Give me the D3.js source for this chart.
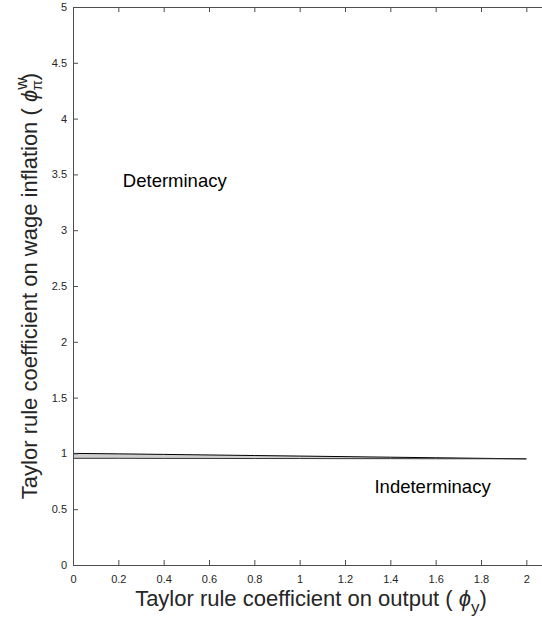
<!DOCTYPE html>
<html><head><meta charset="utf-8">
<script src="https://cdn.jsdelivr.net/npm/d3@7"></script>
<style>body{margin:0;background:#fff}svg{display:block}text{font-family:"Liberation Sans",Arial,Helvetica,sans-serif}</style>
</head><body><svg id="c" width="542" height="624"></svg>
<script>
const phiY = [0, 0.2, 0.4, 0.6, 0.8, 1.0, 1.2, 1.4, 1.6, 1.8, 2.0];
const upperBound = [1.0, 0.996, 0.991, 0.986, 0.981, 0.976, 0.971, 0.966, 0.961, 0.956, 0.951];
const lowerBound = [0.956, 0.956, 0.955, 0.955, 0.954, 0.954, 0.953, 0.953, 0.952, 0.952, 0.951];
const xTicks = [0, 0.2, 0.4, 0.6, 0.8, 1, 1.2, 1.4, 1.6, 1.8, 2];
const yTicks = [0, 0.5, 1, 1.5, 2, 2.5, 3, 3.5, 4, 4.5, 5];
const regionLabels = [{text: "Determinacy", x: 0.22, y: 3.39}, {text: "Indeterminacy", x: 1.33, y: 0.645}];

const svg = d3.select("#c");
const L = 73, R = 549, T = 7, B = 565;
const x = d3.scaleLinear().domain([0, 2.1]).range([L, R]);
const y = d3.scaleLinear().domain([0, 5]).range([B, T]);
const axisColor = "#4d4d4d";

// band
const data = phiY.map((v, i) => ({x: v, u: upperBound[i], l: lowerBound[i]}));
svg.append("path").datum(data)
  .attr("d", d3.area().x(d => x(d.x)).y0(d => y(d.l)).y1(d => y(d.u)))
  .attr("fill", "#cfcfcf").attr("stroke", "none");
svg.append("path").datum(data)
  .attr("d", d3.line().x(d => x(d.x)).y(d => y(d.u)))
  .attr("fill", "none").attr("stroke", "#000").attr("stroke-width", 1);
svg.append("path").datum(data)
  .attr("d", d3.line().x(d => x(d.x)).y(d => y(d.l)))
  .attr("fill", "none").attr("stroke", "#333").attr("stroke-width", 1);

// axes
function styleAxis(g) {
  g.selectAll("path.domain").attr("stroke", axisColor);
  g.selectAll(".tick line").attr("stroke", axisColor);
  g.selectAll(".tick text").attr("fill", "#262626").style("font-size", "11px").style("font-family", '"Liberation Sans",Arial,sans-serif');
}
const fmt = d => String(d);
svg.append("g").attr("transform", `translate(0,${B})`)
  .call(d3.axisBottom(x).tickValues(xTicks).tickFormat(fmt).tickSizeInner(-5).tickSizeOuter(0).tickPadding(10))
  .call(styleAxis);
svg.append("g").attr("transform", `translate(0,${T})`)
  .call(d3.axisTop(x).tickValues(xTicks).tickFormat("").tickSizeInner(-5).tickSizeOuter(0))
  .call(styleAxis);
svg.append("g").attr("transform", `translate(${L},0)`)
  .call(d3.axisLeft(y).tickValues(yTicks).tickFormat(fmt).tickSizeInner(-5).tickSizeOuter(0).tickPadding(6))
  .call(styleAxis);
svg.append("g").attr("transform", `translate(${R},0)`)
  .call(d3.axisRight(y).tickValues(yTicks).tickFormat("").tickSizeInner(-5).tickSizeOuter(0))
  .call(styleAxis);

// region labels
svg.selectAll("text.region").data(regionLabels).join("text").attr("class", "region")
  .attr("x", d => x(d.x)).attr("y", d => y(d.y))
  .attr("fill", "#000").style("font-size", "18.5px").text(d => d.text);

// x label
const xl = svg.append("text").attr("x", (L + R) / 2).attr("y", 606)
  .attr("text-anchor", "middle").attr("fill", "#262626").style("font-size", "22px");
xl.append("tspan").text("Taylor rule coefficient on output ( ");
xl.append("tspan").style("font-style", "italic").text("ϕ");
xl.append("tspan").attr("dy", 7).style("font-size", "17px").text("y");
xl.append("tspan").attr("dy", -7).text(")");

// y label
const yl = svg.append("text").attr("transform", `translate(37,${(T + B) / 2}) rotate(-90)`)
  .attr("text-anchor", "middle").attr("fill", "#262626").style("font-size", "22px");
yl.append("tspan").text("Taylor rule coefficient on wage inflation ( ");
yl.append("tspan").style("font-style", "italic").text("ϕ");
yl.append("tspan").attr("dy", -10).style("font-size", "17px").text("w");
yl.append("tspan").attr("dx", -13).attr("dy", 15).style("font-size", "15px").text("π");
yl.append("tspan").attr("dy", -5).text(")");
</script></body></html>
